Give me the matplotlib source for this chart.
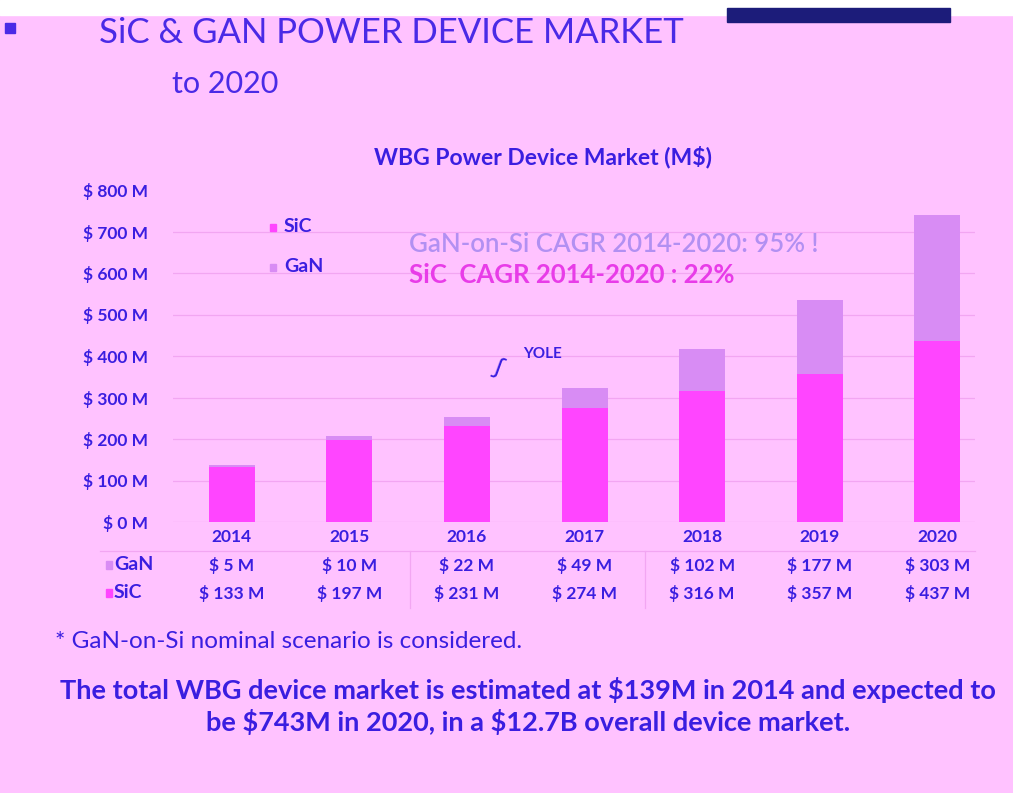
import matplotlib.pyplot as plt
import matplotlib.patches as patches
from matplotlib.transforms import blended_transform_factory

# data
years = ["2014", "2015", "2016", "2017", "2018", "2019", "2020"]
sic = [133, 197, 231, 274, 316, 357, 437]
gan = [5, 10, 22, 49, 102, 177, 303]
yticks = [0, 100, 200, 300, 400, 500, 600, 700, 800]

BG = "#FFC2FF"
BLUE = "#3A1EE0"
SIC_C = "#FF45FF"
GAN_C = "#D88CF4"
LINE_C = "#F2A6F2"

W, H = 1013, 793
plt.rcParams["font.family"] = ["Lato", "DejaVu Sans"]

fig = plt.figure(figsize=(W / 100, H / 100), dpi=100, facecolor=BG)

def fx(x):
    return x / W

def fy(y):
    return 1 - y / H

ax = fig.add_axes([fx(173), fy(522), fx(975) - fx(173), fy(190) - fy(522)])
ax.set_facecolor(BG)
xs = list(range(len(years)))
ax.bar(xs, sic, width=0.39, color=SIC_C, zorder=3)
ax.bar(xs, gan, width=0.39, bottom=sic, color=GAN_C, zorder=3)
ax.set_xlim(-0.5, 6.32)
ax.set_ylim(0, 800)
ax.set_yticks(yticks)
ax.set_yticklabels([f"\\$ {v} M" for v in yticks], color=BLUE, fontsize=12.5,
                   fontweight="bold")
ax.tick_params(axis="y", length=0, pad=18)
ax.set_xticks([])
for s in ax.spines.values():
    s.set_visible(False)
for v in yticks[1:-1]:
    ax.axhline(v, color=LINE_C, lw=0.9, zorder=1)
ax.axhline(0, color=LINE_C, lw=0.9, zorder=1)

# legend inside plot
fig.patches.append(patches.Rectangle((fx(270), fy(231)), fx(6), 7 / H, color=SIC_C,
                                     transform=fig.transFigure, figure=fig))
fig.patches.append(patches.Rectangle((fx(270), fy(271)), fx(6), 7 / H, color=GAN_C,
                                     transform=fig.transFigure, figure=fig))
fig.text(fx(284), fy(226), "SiC", color=BLUE, fontsize=14, fontweight="bold", va="center")
fig.text(fx(284), fy(266), "GaN", color=BLUE, fontsize=14, fontweight="bold", va="center")

# CAGR notes
fig.text(fx(409), fy(245), "GaN-on-Si CAGR 2014-2020: 95% !", color="#B290F2",
         fontsize=18.5, fontweight="semibold", va="center")
fig.text(fx(409), fy(275), "SiC  CAGR 2014-2020 : 22%", color="#E83CE8",
         fontsize=18.5, fontweight="bold", va="center")

# yole mark
fig.text(fx(543), fy(354), "YOLE", color=BLUE, fontsize=11, fontweight="bold",
         va="center", ha="center")
fig.text(fx(498), fy(366), "ʃ", color=BLUE, fontsize=18, va="center", ha="center",
         rotation=-20)

# table under the chart
tr = blended_transform_factory(ax.transData, fig.transFigure)
for i, y in enumerate(years):
    ax.text(i, fy(537), y, transform=tr, ha="center", va="center", color=BLUE,
            fontsize=12.5, fontweight="bold", clip_on=False)
    ax.text(i, fy(565), f"$ {gan[i]} M", transform=tr, ha="center", va="center",
            color=BLUE, fontsize=12.5, fontweight="bold", clip_on=False)
    ax.text(i, fy(593), f"$ {sic[i]} M", transform=tr, ha="center", va="center",
            color=BLUE, fontsize=12.5, fontweight="bold", clip_on=False)

fig.add_artist(plt.Line2D([fx(100), fx(975)], [fy(551), fy(551)], color=LINE_C, lw=0.9))
for xv in [410, 645]:
    fig.add_artist(plt.Line2D([fx(xv), fx(xv)], [fy(608), fy(551)], color=LINE_C, lw=0.9))

fig.patches.append(patches.Rectangle((fx(106), fy(569)), fx(6), 8 / H, color=GAN_C,
                                     transform=fig.transFigure, figure=fig))
fig.patches.append(patches.Rectangle((fx(106), fy(597)), fx(6), 8 / H, color=SIC_C,
                                     transform=fig.transFigure, figure=fig))
fig.text(fx(114), fy(564), "GaN", color=BLUE, fontsize=14, fontweight="bold", va="center")
fig.text(fx(114), fy(592), "SiC", color=BLUE, fontsize=14, fontweight="bold", va="center")

# chart title
fig.text(fx(543), fy(157), "WBG Power Device Market (M$)", color=BLUE, fontsize=16.5,
         fontweight="bold", ha="center", va="center")

# slide title
fig.text(fx(99), fy(33), "SiC & GAN POWER DEVICE MARKET", color="#4A2AE6", fontsize=25,
         va="center")
fig.text(fx(172), fy(84), "to 2020", color="#4A2AE6", fontsize=22, va="center")

# footnote and summary
fig.text(fx(55), fy(641), "* GaN-on-Si nominal scenario is considered.", color=BLUE,
         fontsize=17.5, va="center")
fig.text(fx(528), fy(690), "The total WBG device market is estimated at \\$139M in 2014 and expected to",
         color=BLUE, fontsize=19.5, fontweight="bold", ha="center", va="center")
fig.text(fx(528), fy(722), "be \\$743M in 2020, in a \\$12.7B overall device market.",
         color=BLUE, fontsize=19.5, fontweight="bold", ha="center", va="center")

# header strip artefacts
fig.patches.append(patches.Rectangle((0, fy(15)), 1, 15 / H, color="white",
                                     transform=fig.transFigure, figure=fig, zorder=10))
fig.patches.append(patches.Rectangle((fx(727), fy(22)), fx(223), 14 / H, color="#1C1C7A",
                                     transform=fig.transFigure, figure=fig, zorder=11))
fig.patches.append(patches.Rectangle((fx(5), fy(33)), fx(10), 10 / H, color="#4A2AE6",
                                     transform=fig.transFigure, figure=fig, zorder=11))

fig.savefig("out.png", dpi=100, facecolor=BG)
